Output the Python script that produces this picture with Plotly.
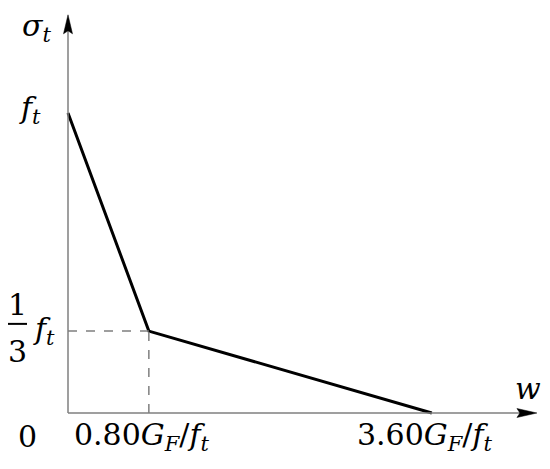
import plotly.graph_objects as go

# bilinear softening curve (w in G_F/f_t, sigma relative to f_t as drawn)
w_pts = [0.0, 0.80, 3.60]
sig_pts = [1.0, 0.273, 0.0]

w_ticks = [0.80, 3.60]
w_labels = ["0.80<i>G</i><sub><i>F</i></sub>/<i>f</i><sub><i>t</i></sub>",
            "3.60<i>G</i><sub><i>F</i></sub>/<i>f</i><sub><i>t</i></sub>"]

W, H = 542, 461           # page adds an 8px body margin
M = dict(l=55, r=5, t=2, b=51)
PX_X = 4.72 / 477         # data units per pixel
PX_Y = 1.343 / 403
X_RANGE = [-5 * PX_X, 4.72]   # small pad so the axis lines are not clipped
Y_RANGE = [-5 * PX_Y, 1.343]
X_TIP = 4.64
Y_TIP = 1.327

AXIS_COL = "#7f7f7f"
FONT = dict(family="DejaVu Serif, Liberation Serif, serif", size=30, color="black")


def to_paper_x(x):
    return (x - X_RANGE[0]) / (X_RANGE[1] - X_RANGE[0])


fig = go.Figure()

# the curve
fig.add_trace(go.Scatter(x=w_pts, y=sig_pts, mode="lines",
                         line=dict(color="black", width=3), hoverinfo="skip"))


def tri(pts):
    return "M " + " L ".join(f"{x},{y}" for x, y in pts) + " Z"


shapes = [
    # axes
    dict(type="line", xref="x", yref="y", x0=0, y0=0, x1=0, y1=Y_TIP - 10 * PX_Y,
         line=dict(color=AXIS_COL, width=1.5)),
    dict(type="line", xref="x", yref="y", x0=0, y0=0, x1=X_TIP - 10 * PX_X, y1=0,
         line=dict(color=AXIS_COL, width=1.5)),
    # dashed guides to the knee
    dict(type="line", xref="x", yref="y", x0=0, y0=sig_pts[1], x1=w_pts[1], y1=sig_pts[1],
         line=dict(color=AXIS_COL, width=1.5, dash="dash")),
    dict(type="line", xref="x", yref="y", x0=w_pts[1], y0=0, x1=w_pts[1], y1=sig_pts[1],
         line=dict(color=AXIS_COL, width=1.5, dash="dash")),
    # arrow heads
    dict(type="path", xref="x", yref="y",
         path=tri([(-4.5 * PX_X, Y_TIP - 19 * PX_Y), (0, Y_TIP),
                   (4.5 * PX_X, Y_TIP - 19 * PX_Y), (0, Y_TIP - 16 * PX_Y)]),
         fillcolor="black", line=dict(color="black", width=0.5)),
    dict(type="path", xref="x", yref="y",
         path=tri([(X_TIP - 20 * PX_X, -4.5 * PX_Y), (X_TIP, 0),
                   (X_TIP - 20 * PX_X, 4.5 * PX_Y), (X_TIP - 17 * PX_X, 0)]),
         fillcolor="black", line=dict(color="black", width=0.5)),
    # fraction bar of 1/3 (paper ref so it is not clipped)
    dict(type="line", xref="paper", yref="y",
         x0=to_paper_x(-61 * PX_X), x1=to_paper_x(-41 * PX_X),
         y0=sig_pts[1] + 0.024, y1=sig_pts[1] + 0.024,
         line=dict(color="black", width=2)),
]

ann = []


def txt(x, y, s, xshift=0, yshift=0):
    ann.append(dict(x=x, y=y, xref="x", yref="y", text=s, showarrow=False,
                    xshift=xshift, yshift=yshift, font=FONT))


txt(0, Y_TIP, "<i>σ</i><sub><i>t</i></sub>", xshift=-32, yshift=-13)
txt(0, sig_pts[0], "<i>f</i><sub><i>t</i></sub>", xshift=-38, yshift=3)
txt(0, sig_pts[1], "1", xshift=-51, yshift=27)
txt(0, sig_pts[1], "3", xshift=-51, yshift=-20)
txt(0, sig_pts[1], "<i>f</i><sub><i>t</i></sub>", xshift=-24, yshift=1)
txt(0, 0, "0", xshift=-41, yshift=-23)
for xv, lab in zip(w_ticks, w_labels):
    txt(xv, 0, lab, xshift=-7, yshift=-23)
txt(X_TIP, 0, "<i>w</i>", xshift=-9, yshift=25)

fig.update_layout(
    width=W, height=H,
    paper_bgcolor="white", plot_bgcolor="white",
    margin=M,
    showlegend=False,
    shapes=shapes, annotations=ann,
)
fig.update_xaxes(range=X_RANGE, visible=False)
fig.update_yaxes(range=Y_RANGE, visible=False)

fig.write_html("out.html")
